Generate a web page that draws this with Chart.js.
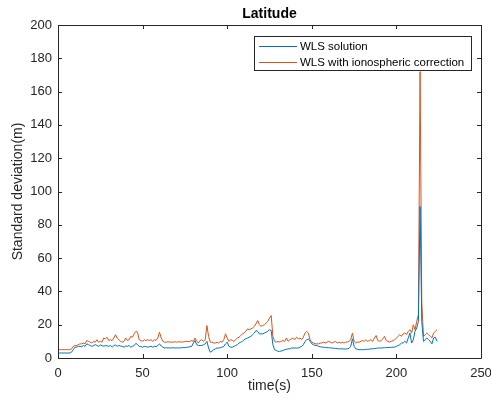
<!DOCTYPE html>
<html>
<head>
<meta charset="utf-8">
<script src="https://cdn.jsdelivr.net/npm/chart.js@4.4.0/dist/chart.umd.min.js"></script>
<style>
    html, body { margin: 0; padding: 0; background: #fff; }
</style>
</head>
<body>
<canvas id="grafico" width="491" height="401"></canvas>
<script>
// Datos (una muestra por segundo, t = 0..224)
const tiempo = Array.from({ length: 225 }, (_, i) => i);

const wls = [
    3, 3, 3, 3, 3, 3, 3, 3, 3.5, 5,
    6.5, 6.5, 7, 7, 6.8, 7.5, 7, 8.5, 8, 7.5,
    7, 7.5, 8, 7.5, 7, 7.8, 7.5, 7, 7.5, 7.3,
    7, 7.5, 6.5, 7.5, 7.8, 7, 7.5, 7.2, 7, 6.5,
    7.2, 7, 7.5, 6.5, 7, 7.5, 8.8, 8, 7, 6.8,
    6.5, 7, 6.8, 6.5, 6.8, 7, 6.5, 7, 6.8, 7.5,
    8.5, 7.2, 6.5, 6, 6.2, 6, 6.1, 6, 6.2, 6,
    6, 6.1, 6, 6.2, 6.3, 6.2, 6.4, 6.5, 6.8, 7,
    9, 10.5, 8, 7.5, 7.5, 7.5, 8, 8.5, 10, 6,
    3.5, 4, 5, 5.5, 6, 6, 6.2, 6.5, 7, 8.5,
    9.5, 7, 6.5, 6.5, 7, 7.5, 8, 9, 9.5, 10,
    11, 11.5, 12, 12.5, 13, 14, 15, 16.5, 16, 14.5,
    14.5, 14.5, 15, 15.5, 16, 17, 16.5, 8, 5, 4.5,
    4, 4, 4.2, 4.5, 5, 5.2, 5.5, 5.5, 6, 6,
    6, 6, 6, 6.5, 7, 8, 10, 11, 11.5, 10,
    8.5, 8, 7.5, 7.5, 7, 6.8, 6.5, 6.5, 6.3, 6.2,
    6.2, 6, 6, 5.8, 5.8, 5.6, 5.5, 5.5, 5.5, 5.4,
    5.4, 5.5, 5.8, 7, 11.5, 7, 5.5, 5.2, 5, 5,
    5, 5, 5.2, 5.2, 5.3, 5.5, 5.5, 5.7, 5.8, 6,
    6, 6, 6.1, 6.2, 6.2, 6.3, 6.3, 6.4, 6.5, 6.5,
    7, 7.5, 8, 9, 9, 10, 9, 12, 15, 9,
    11, 16, 18, 22, 91, 22, 10, 11, 12, 11,
    10, 8.5, 12, 12.5, 10
];

const wlsIono = [
    5, 5, 5, 5, 5, 5, 5, 5, 5.5, 7,
    7.5, 7.5, 8, 8.5, 8.5, 9, 8.5, 10.5, 10, 9.5,
    9, 10, 9.5, 11, 9.5, 10, 9.5, 12, 11.5, 12.5,
    10.5, 11, 10.5, 12, 14, 12, 11, 10, 9.5, 10,
    12, 10.5, 11, 13, 12.5, 14.5, 16, 15.5, 11, 10.5,
    10, 11, 10.5, 11, 10.5, 11, 10, 11, 10.5, 12,
    15.5, 12, 10, 9.5, 9.5, 9.8, 9.5, 9.6, 9.5, 9.8,
    9.5, 9.6, 9.8, 9.5, 9.7, 9.8, 10, 9.8, 10, 10.5,
    10, 12, 10, 9, 10.5, 11, 10, 11, 19.5, 13,
    9.5, 9.5, 9, 9, 9.5, 9, 10, 9.5, 11, 14.5,
    12, 10, 11, 10.5, 10, 11, 12, 12.5, 13.5, 14.5,
    15, 16, 17.5, 17, 17.5, 18, 19, 20.5, 22.5, 20,
    19, 19.5, 20, 21, 22, 24, 25.5, 13, 10, 9.5,
    10, 9.5, 10, 10.5, 10, 12, 10, 11, 11.5, 12,
    11, 12.5, 11.5, 12, 11, 12.5, 15, 16, 15, 11,
    9.5, 9, 8.5, 8.5, 8.5, 9, 9, 9.5, 9, 9.5,
    10, 9.5, 9, 9.5, 10, 9, 9.5, 9, 9.5, 9,
    9.5, 9.5, 10, 11, 15, 10, 9, 9.5, 9.5, 10,
    10.5, 10, 11, 10, 10.5, 11, 10, 12, 13.5, 10.5,
    10, 10.5, 11.5, 13, 10.5, 10, 9.5, 10, 10.5, 11,
    12, 13, 14, 13, 14.5, 15, 14, 16, 17, 15,
    20, 17, 22, 26, 172, 33, 13, 14, 15, 14,
    13, 12, 15, 16, 17
];

const nombres = ['WLS solution', 'WLS with ionospheric correction'];
const colores = ['#0072BD', '#D95319'];
const ticksX = [0, 50, 100, 150, 200, 250];
const ticksY = [0, 20, 40, 60, 80, 100, 120, 140, 160, 180, 200];

const colorEje = '#262626';
const fuente = '"Liberation Sans", Arial, Helvetica, sans-serif';

const aPuntos = (valores) => valores.map((v, i) => ({ x: tiempo[i], y: v }));

// Caja, marcas interiores, titulos y leyenda al estilo MATLAB
const estiloMatlab = {
    id: 'estiloMatlab',
    afterDatasetsDraw(chart) {
        const { ctx, chartArea: a, scales } = chart;
        ctx.save();
        ctx.strokeStyle = colorEje;
        ctx.lineWidth = 1;
        ctx.beginPath();
        ctx.rect(Math.round(a.left) + 0.5, Math.round(a.top) + 0.5,
            Math.round(a.right - a.left), Math.round(a.bottom - a.top));
        ctx.stroke();

        const largo = 4;
        ctx.beginPath();
        ticksX.forEach(v => {
            const px = Math.round(scales.x.getPixelForValue(v)) + 0.5;
            ctx.moveTo(px, a.bottom); ctx.lineTo(px, a.bottom - largo);
            ctx.moveTo(px, a.top); ctx.lineTo(px, a.top + largo);
        });
        ticksY.forEach(v => {
            const py = Math.round(scales.y.getPixelForValue(v)) + 0.5;
            ctx.moveTo(a.left, py); ctx.lineTo(a.left + largo, py);
            ctx.moveTo(a.right, py); ctx.lineTo(a.right - largo, py);
        });
        ctx.stroke();

        // titulos
        ctx.fillStyle = '#000';
        ctx.textAlign = 'center';
        ctx.textBaseline = 'middle';
        ctx.font = 'bold 14px ' + fuente;
        ctx.fillText('Latitude', (a.left + a.right) / 2, 14);
        ctx.fillStyle = colorEje;
        ctx.font = '14px ' + fuente;
        ctx.fillText('time(s)', (a.left + a.right) / 2, 386);
        ctx.save();
        ctx.translate(18, (a.top + a.bottom) / 2);
        ctx.rotate(-Math.PI / 2);
        ctx.fillText('Standard deviation(m)', 0, 0);
        ctx.restore();

        // leyenda
        const lx = 254, ly = 36, lw = 217, lh = 34;
        ctx.fillStyle = '#fff';
        ctx.fillRect(lx, ly, lw, lh);
        ctx.strokeStyle = colorEje;
        ctx.strokeRect(lx + 0.5, ly + 0.5, lw, lh);
        ctx.font = '11.5px ' + fuente;
        ctx.textAlign = 'left';
        chart.data.datasets.forEach((ds, i) => {
            const y = ly + 10 + i * 16;
            ctx.strokeStyle = ds.borderColor;
            ctx.beginPath();
            ctx.moveTo(lx + 5, y + 0.5);
            ctx.lineTo(lx + 43, y + 0.5);
            ctx.stroke();
            ctx.fillStyle = '#000';
            ctx.fillText(ds.label, lx + 46, y + 1);
        });
        ctx.restore();
    }
};

const grafico = new Chart(document.getElementById('grafico').getContext('2d'), {
    type: 'line',
    data: {
        datasets: [
            { label: nombres[0], data: aPuntos(wls), borderColor: colores[0] },
            { label: nombres[1], data: aPuntos(wlsIono), borderColor: colores[1] }
        ].map(ds => ({ ...ds, borderWidth: 1, pointRadius: 0, tension: 0, fill: false }))
    },
    options: {
        responsive: false,
        animation: false,
        devicePixelRatio: 1,
        layout: { padding: { top: 25, right: 10, left: 0, bottom: 0 } },
        plugins: {
            legend: { display: false },
            title: { display: false },
            tooltip: { enabled: false }
        },
        scales: {
            x: {
                type: 'linear',
                min: 0,
                max: 250,
                afterBuildTicks: (s) => { s.ticks = ticksX.map(v => ({ value: v })); },
                afterFit: (s) => { s.height = 43; s.paddingLeft = 0; s.paddingRight = 0; },
                grid: { display: false, drawTicks: false },
                border: { display: false },
                ticks: {
                    color: colorEje,
                    padding: 8,
                    maxRotation: 0,
                    font: { family: fuente, size: 13 }
                }
            },
            y: {
                min: 0,
                max: 200,
                afterBuildTicks: (s) => { s.ticks = ticksY.map(v => ({ value: v })); },
                afterFit: (s) => { s.width = 58; s.paddingTop = 0; s.paddingBottom = 0; },
                grid: { display: false, drawTicks: false },
                border: { display: false },
                ticks: {
                    color: colorEje,
                    padding: 6,
                    font: { family: fuente, size: 13 }
                }
            }
        }
    },
    plugins: [estiloMatlab]
});
</script>
</body>
</html>
